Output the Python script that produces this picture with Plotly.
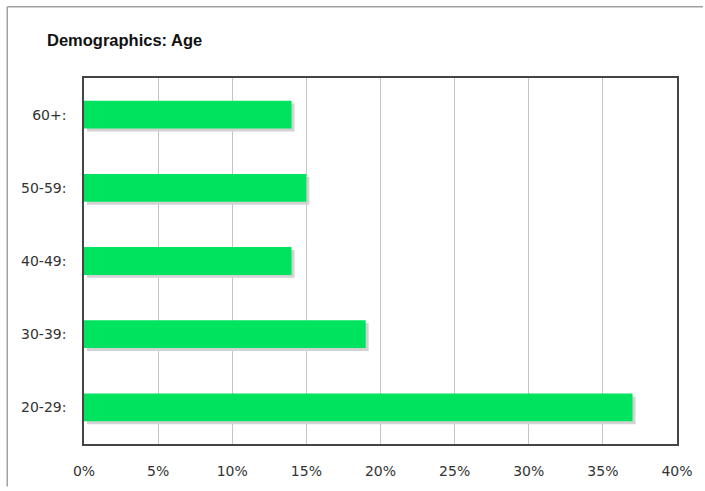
import plotly.graph_objects as go

categories = ["20-29:", "30-39:", "40-49:", "50-59:", "60+:"]
values = [37, 19, 14, 15, 14]
x_ticks = [0, 5, 10, 15, 20, 25, 30, 35, 40]
x_labels = [f"{v}%" for v in x_ticks]

fig = go.Figure()
# soft drop shadow behind each bar
fig.add_trace(go.Bar(
    y=categories, x=values, orientation="h", base=0.2,
    width=0.38, offset=-0.23,
    marker=dict(color="#d2d2d2", line=dict(width=0)),
    hoverinfo="skip", showlegend=False,
))
fig.add_trace(go.Bar(
    y=categories, x=values, orientation="h",
    width=0.38, offset=-0.19,
    marker=dict(color="#00e35e", line=dict(width=0)),
    showlegend=False,
))

fig.update_layout(
    width=705, height=491,
    margin=dict(l=84, r=26, t=78, b=43),
    paper_bgcolor="white", plot_bgcolor="white",
    barmode="overlay",
    title=dict(text="<b>Demographics: Age</b>", x=47/705, xanchor="left",
               y=1-40/491, yanchor="middle",
               font=dict(family="Liberation Sans, Arial", size=16.5, color="#111")),
    font=dict(family="DejaVu Sans, Verdana", size=14, color="#333"),
    xaxis=dict(range=[0, 40], tickvals=x_ticks, ticktext=x_labels,
               showgrid=True, gridcolor="#c4c4c4", gridwidth=1,
               showline=True, linecolor="#444", linewidth=1.5, mirror=True,
               zeroline=False, ticks="", ticklabelstandoff=13, fixedrange=True),
    yaxis=dict(categoryorder="array", categoryarray=categories,
               range=[-0.5, 4.5], showgrid=False,
               showline=True, linecolor="#444", linewidth=1.5, mirror=True,
               ticks="", ticklabelstandoff=13, fixedrange=True),
    shapes=[
        dict(type="line", xref="paper", yref="paper",
             x0=(7-84)/595, x1=(705-84)/595, y0=(448-6)/370, y1=(448-6)/370,
             line=dict(color="#a0a0a0", width=1.5)),
        dict(type="line", xref="paper", yref="paper",
             x0=(7-84)/595, x1=(7-84)/595, y0=(448-6)/370, y1=(448-491)/370,
             line=dict(color="#a0a0a0", width=1.5)),
    ],
)

fig.write_html("out.html", config={"displayModeBar": False},
               post_script="document.body.style.margin='0';document.body.style.overflow='hidden';")
